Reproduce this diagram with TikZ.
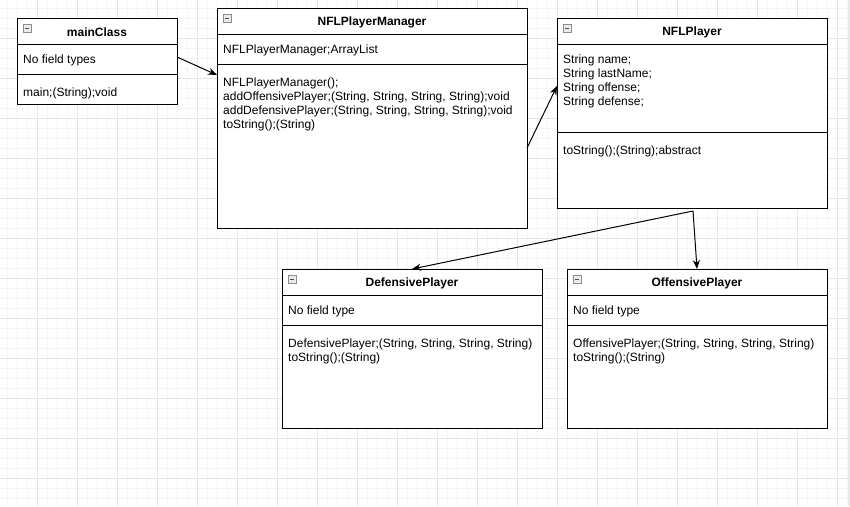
\documentclass[tikz,border=0pt]{standalone}
\usepackage{fontspec}
\setmainfont{Liberation Sans}
\usetikzlibrary{arrows.meta,positioning,calc}
\definecolor{gridmajor}{HTML}{E6E6E6}
\definecolor{gridminor}{HTML}{F5F5F5}
\tikzset{classbox/.style={draw, line width=1pt, fill=white, inner sep=0pt, outer sep=0pt}}
\tikzset{classtitle/.style={font=\fontsize{12}{14}\selectfont\bfseries, inner sep=0pt}}
\tikzset{classtext/.style={anchor=north west, inner sep=0pt, align=left, font=\fontsize{12}{14}\selectfont}}
\tikzset{collapse/.style={draw=black!45, fill=black!8, line width=0.8pt}}
\tikzset{arr/.style={draw, -{Stealth[length=9pt, width=7pt]}, line width=1pt}}
% #1 name, #2 x, #3 y, #4 width, #5 height, #6 title, #7 field height, #8 fields, #9 methods
\newcommand\umlclass[9]{
		\node[classbox, minimum width=#4pt, minimum height=#5pt, anchor=north west] (#1) at (#2,#3) {};
		\draw[line width=1pt] ($(#1.north west)+(0,26)$) -- ($(#1.north east)+(0,26)$);
		\draw[line width=1pt] ($(#1.north west)+(0,26+#7)$) -- ($(#1.north east)+(0,26+#7)$);
		\draw[collapse] ($(#1.north west)+(6,6)$) rectangle ++(8,8);
		\draw[black!70, line width=1pt] ($(#1.north west)+(8,10)$) -- ++(4,0);
		\node[classtitle] (#1-title) at ($(#1.north)+(0,14)$) {#6};
		\node[classtext] (#1-fields) at ($(#1.north west)+(6,35)$) {\strut#8};
		\node[classtext] (#1-methods) at ($(#1.north west)+(6,38.5+#7)$) {\strut#9};
	}

\begin{document}
\begin{tikzpicture}[x=1pt, y=-1pt]
		\useasboundingbox (0,0) rectangle (850,506);
		\fill[white] (0,0) rectangle (850,506);
		% background grid
		\foreach \x in {7,17,...,847} \draw[gridminor, line width=0.8pt] (\x,0) -- (\x,506);
		\foreach \y in {8,18,...,498} \draw[gridminor, line width=0.8pt] (0,\y) -- (850,\y);
		\foreach \x in {37,77,...,837} \draw[gridmajor, line width=0.8pt] (\x,0) -- (\x,506);
		\foreach \y in {38,78,...,478} \draw[gridmajor, line width=0.8pt] (0,\y) -- (850,\y);
		\fill[black!9] (847.5,0) rectangle (850,506);
		
		\umlclass{mainClass}{17}{18}{160}{86}{mainClass}{30}{No field types}{main;(String);void}
		\umlclass{manager}{217}{8}{310}{220}{NFLPlayerManager}{30}{NFLPlayerManager;ArrayList}{NFLPlayerManager();\\addOffensivePlayer;(String, String, String, String);void\\addDefensivePlayer;(String, String, String, String);void\\toString();(String)}
		\umlclass{player}{557}{18}{270}{190}{NFLPlayer}{88}{String name;\\String lastName;\\String offense;\\String defense;}{toString();(String);abstract}
		\umlclass{defensive}{282}{269}{260}{159}{DefensivePlayer}{30}{No field type}{DefensivePlayer;(String, String, String, String)\\toString();(String)}
		\umlclass{offensive}{567}{269}{260}{159}{OffensivePlayer}{30}{No field type}{OffensivePlayer;(String, String, String, String)\\toString();(String)}
		
		\draw[arr] ($(mainClass.north east)+(0,39)$) -- ($(manager.north west)+(0,67)$);
		\draw[arr] ($(manager.north east)+(0,140)$) -- ($(player.north west)+(0,68)$);
		
		\coordinate (split) at ($(player.south)+(1,3)$);
		\draw[arr] (split) -- (defensive.north);
		\draw[arr] (split) -- (offensive.north);
	\end{tikzpicture}
\end{document}
